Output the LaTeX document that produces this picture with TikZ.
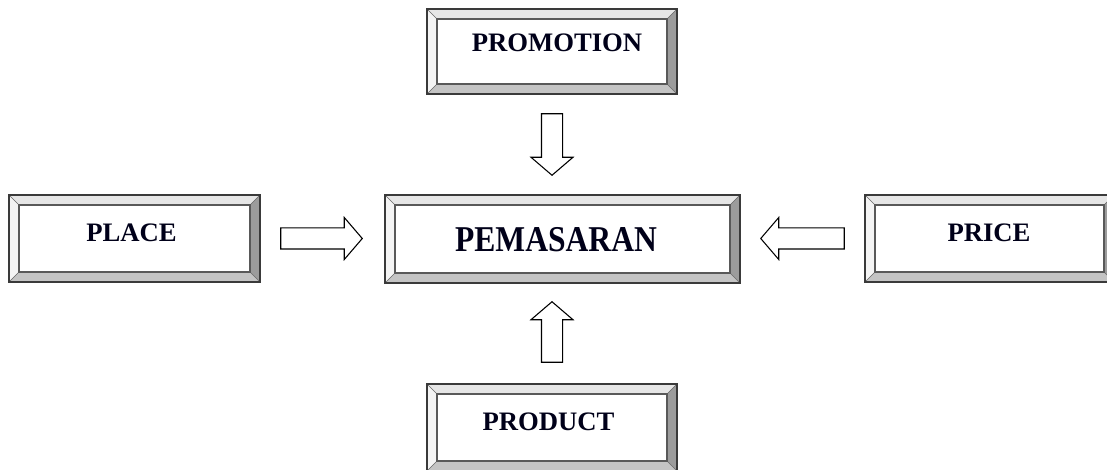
\documentclass[tikz,border=0pt]{standalone}
\usepackage{fontspec}
\setmainfont{Liberation Serif}
\usetikzlibrary{calc,fit}
\definecolor{bevtop}{HTML}{E6E6E6}
\definecolor{bevleft}{HTML}{F4F4F4}
\definecolor{bevright}{HTML}{9C9C9C}
\definecolor{bevbot}{HTML}{C4C4C4}
\definecolor{edge}{HTML}{3A3A3A}
\tikzset{
  boxedge/.style={draw=edge, line width=1.1pt},
  inneredge/.style={draw=black!65, line width=0.8pt},
  bevelline/.style={draw=black!60, line width=0.5pt},
  lbl/.style={font=\bfseries\fontsize{20}{24}\selectfont, anchor=base, inner sep=0pt, text=black!90!blue},
  biglbl/.style={font=\bfseries\fontsize{23.7}{28}\selectfont, anchor=base, inner sep=0pt, text=black!90!blue},
  blkarrow/.style={draw=black, line width=0.8pt, fill=white, line join=miter},
}
% name, x1, y1, x2, y2
\newcommand\bevbox[5]{%
  \fill[bevtop]   (#2,#3) -- (#4,#3) -- (#4-10,#3+10) -- (#2+10,#3+10) -- cycle;
  \fill[bevleft]  (#2,#3) -- (#2+10,#3+10) -- (#2+10,#5-10) -- (#2,#5) -- cycle;
  \fill[bevright] (#4,#3) -- (#4,#5) -- (#4-10,#5-10) -- (#4-10,#3+10) -- cycle;
  \fill[bevbot]   (#2,#5) -- (#4,#5) -- (#4-10,#5-10) -- (#2+10,#5-10) -- cycle;
  \draw[bevelline] (#2,#3) -- (#2+10,#3+10) (#4,#3) -- (#4-10,#3+10)
                   (#2,#5) -- (#2+10,#5-10) (#4,#5) -- (#4-10,#5-10);
  \draw[inneredge, fill=white] (#2+10,#3+10) rectangle (#4-10,#5-10);
  \node[fit={(#2,#3) (#4,#5)}, inner sep=0pt, boxedge] (#1) {};
}
% block arrow from #1 to #2
\newcommand\blockarrow[2]{%
  \coordinate (H) at ($(#2)!13.5pt!(#1)$);
  \draw[blkarrow] ($(#1)!7.9pt!90:(#2)$) -- ($(H)!7.9pt!-90:(#1)$)
     -- ($(H)!15.75pt!-90:(#1)$) -- (#2) -- ($(H)!15.75pt!90:(#1)$)
     -- ($(H)!7.9pt!90:(#1)$) -- ($(#1)!7.9pt!-90:(#2)$) -- cycle;
}
\begin{document}
\begin{tikzpicture}[x=0.75pt,y=-0.75pt]
\useasboundingbox (0,0) rectangle (1107,470);
\fill[white] (0,0) rectangle (1107,470);
\clip (0,0) rectangle (1107,470);

\bevbox{promo}{427}{9}{677}{94}
\bevbox{pem}{385}{195}{740}{283}
\bevbox{place}{9}{195}{260}{282}
\bevbox{price}{865}{195}{1114}{282}
\bevbox{prod}{427}{384}{677}{471}

\node[lbl] (tpromo) at (557,52) {PROMOTION};
\node[biglbl] (tpem) at (556,252) {\scalebox{1}[1.15]{PEMASARAN}};
\node[lbl] (tplace) at (131.5,242) {PLACE};
\node[lbl] (tprice) at (989,242) {PRICE};
\node[lbl] (tprod) at (548.5,430) {PRODUCT};

\coordinate (a1s) at ($(place.east)+(20,0)$);
\coordinate (a1e) at ($(pem.west|-a1s)+(-22,0)$);
\coordinate (a2s) at ($(price.west)+(-20,0)$);
\coordinate (a2e) at ($(pem.east|-a2s)+(20,0)$);
\coordinate (a3s) at ($(promo.south)+(0,19)$);
\coordinate (a3e) at ($(pem.north-|a3s)+(0,-19)$);
\coordinate (a4s) at ($(prod.north)+(0,-21)$);
\coordinate (a4e) at ($(pem.south-|a4s)+(0,18)$);
\blockarrow{a1s}{a1e}
\blockarrow{a2s}{a2e}
\blockarrow{a3s}{a3e}
\blockarrow{a4s}{a4e}
\end{tikzpicture}
\end{document}
